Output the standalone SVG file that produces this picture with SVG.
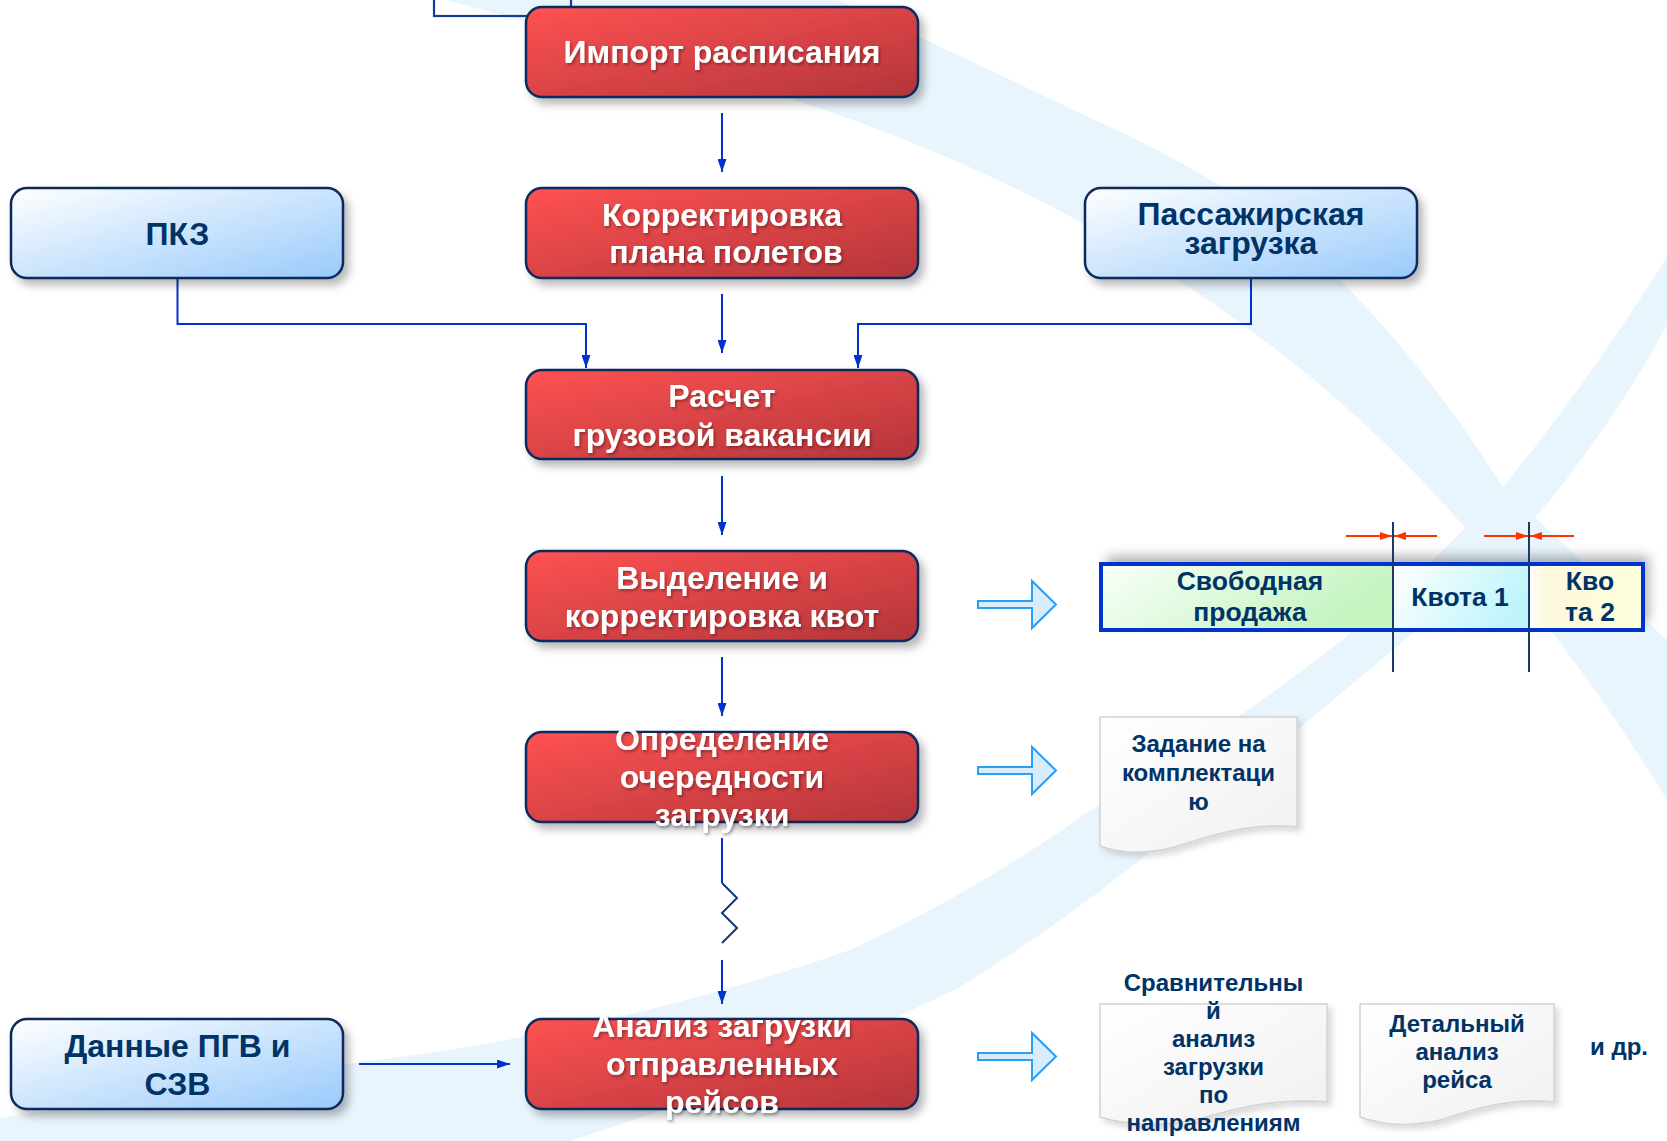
<svg xmlns="http://www.w3.org/2000/svg" width="1667" height="1141" viewBox="0 0 1667 1141">
<defs>
<style>
.t{font-family:"Liberation Sans",Arial,Helvetica,sans-serif;font-weight:bold;text-anchor:middle}
.rt{font-size:32px;fill:#ffffff}
.bt{font-size:32px;fill:#003366}
.dt{font-size:24px;fill:#003366}
.qt{font-size:26.5px;fill:#003366}
.conn{stroke:#0033cc;stroke-width:2;fill:none}
.redbox{fill:url(#gRed);stroke:#0b2b5c;stroke-width:2.5}
.bluebox{fill:url(#gBlue);stroke:#0b2b5c;stroke-width:2.5}
.doc{fill:url(#gDoc);stroke:#d2d2d2;stroke-width:1.5}
.hollow{fill:#d8ecfc;stroke:#2a9df4;stroke-width:2}
.band{fill:#e9f5fd}
.red{stroke:#ff3300;stroke-width:1.8;fill:none}
.div{stroke:#1a3a6a;stroke-width:2}
</style>
<linearGradient id="gRed" x1="0" y1="0" x2="1" y2="1">
<stop offset="0" stop-color="#ff5252"/>
<stop offset="1" stop-color="#b3353a"/>
</linearGradient>
<linearGradient id="gBlue" x1="0" y1="0" x2="1" y2="1">
<stop offset="0" stop-color="#ffffff"/>
<stop offset="1" stop-color="#99cafb"/>
</linearGradient>
<linearGradient id="gDoc" x1="0" y1="0" x2="1" y2="1">
<stop offset="0" stop-color="#ffffff"/>
<stop offset="1" stop-color="#f0f0f0"/>
</linearGradient>
<linearGradient id="gGreen" x1="0" y1="0" x2="1" y2="0.3">
<stop offset="0" stop-color="#f8fff8"/>
<stop offset="1" stop-color="#c4f4c0"/>
</linearGradient>
<linearGradient id="gCyan" x1="0" y1="0" x2="1" y2="0.3">
<stop offset="0" stop-color="#ffffff"/>
<stop offset="1" stop-color="#c0f5fb"/>
</linearGradient>
<linearGradient id="gYellow" x1="0" y1="0" x2="1" y2="0">
<stop offset="0" stop-color="#ffffff"/>
<stop offset="0.14" stop-color="#fcf8dc"/>
<stop offset="1" stop-color="#ffffdc"/>
</linearGradient>
<filter id="shadow" x="-10%" y="-15%" width="125%" height="145%">
<feDropShadow dx="5" dy="6" stdDeviation="4" flood-color="#000" flood-opacity="0.28"/>
</filter>
<filter id="dshadow" x="-10%" y="-10%" width="125%" height="130%">
<feDropShadow dx="4" dy="4" stdDeviation="3" flood-color="#000" flood-opacity="0.15"/>
</filter>
<filter id="qshadow" x="-10%" y="-60%" width="125%" height="200%">
<feDropShadow dx="6" dy="-8" stdDeviation="6" flood-color="#000" flood-opacity="0.3"/>
</filter>
<filter id="tshadow" x="-10%" y="-30%" width="120%" height="160%">
<feDropShadow dx="1.5" dy="2" stdDeviation="1.5" flood-color="#000" flood-opacity="0.35"/>
</filter>
<marker id="arr" viewBox="0 0 13 9" refX="13" refY="4.5" markerWidth="13" markerHeight="9" markerUnits="userSpaceOnUse" orient="auto">
<path d="M0,0 L13,4.5 L0,9 Z" fill="#0033cc"/>
</marker>
<marker id="rarr" viewBox="0 0 12 8" refX="12" refY="4" markerWidth="12" markerHeight="8" markerUnits="userSpaceOnUse" orient="auto">
<path d="M0,0 L12,4 L0,8 Z" fill="#ff3300"/>
</marker>
</defs>

<rect width="1667" height="1141" fill="#ffffff"/>

<g id="background">
<path class="band" d="M445,0 Q620,45 800,102 Q1010,170 1187,286 Q1330,380 1440,500 Q1570,640 1667,800 L1667,640 Q1580,560 1503,487 Q1410,340 1298,240 Q1200,165 1088,117 Q960,55 838,0 Z"/>
<path class="band" d="M1667,257 Q1590,380 1503,487 Q1420,580 1329,650 Q1220,735 1095,807 Q980,890 850,950 Q620,1030 361,1062 Q170,1090 0,1118 L0,1141 L570,1141 Q780,1075 960,987 Q1100,900 1223,790 Q1310,720 1393,650 Q1480,580 1550,500 Q1615,420 1667,325 Z"/>
<rect x="434" y="-20" width="137" height="36" fill="none" stroke="#123c9c" stroke-width="2.2"/>
</g>

<g id="connectors">
<line class="conn" x1="722" y1="113" x2="722" y2="172" marker-end="url(#arr)"/>
<line class="conn" x1="722" y1="294" x2="722" y2="353" marker-end="url(#arr)"/>
<polyline class="conn" points="177.5,278 177.5,324 586,324 586,368" marker-end="url(#arr)"/>
<polyline class="conn" points="1251,278 1251,324 858,324 858,368" marker-end="url(#arr)"/>
<line class="conn" x1="722" y1="476" x2="722" y2="535" marker-end="url(#arr)"/>
<line class="conn" x1="722" y1="657" x2="722" y2="716" marker-end="url(#arr)"/>
<line class="conn" x1="722" y1="838" x2="722" y2="883"/>
<polyline points="722,883 737,898 722,913 737,928 722,943" fill="none" stroke="#0d3a7a" stroke-width="2"/>
<line class="conn" x1="722" y1="960" x2="722" y2="1004" marker-end="url(#arr)"/>
<line class="conn" x1="359" y1="1064" x2="510" y2="1064" marker-end="url(#arr)"/>
<path class="hollow" d="M978,601 L1032,601 L1032,581 L1056,604.5 L1032,628 L1032,608 L978,608 Z"/>
<path class="hollow" d="M978,767 L1032,767 L1032,747 L1056,770.5 L1032,794 L1032,774 L978,774 Z"/>
<path class="hollow" d="M978,1053 L1032,1053 L1032,1033 L1056,1056.5 L1032,1080 L1032,1060 L978,1060 Z"/>
</g>

<g id="node-import">
<rect class="redbox" x="526" y="7" width="392" height="90" rx="16" filter="url(#shadow)"/>
<text class="t rt" x="722" y="63" filter="url(#tshadow)">Импорт расписания</text>
</g>

<g id="node-korrekt">
<rect class="redbox" x="526" y="188" width="392" height="90" rx="16" filter="url(#shadow)"/>
<text class="t rt" filter="url(#tshadow)"><tspan x="722" y="226">Корректировка</tspan><tspan x="726" y="263">плана полетов</tspan></text>
</g>

<g id="node-pkz">
<rect class="bluebox" x="11" y="188" width="332" height="90" rx="16" filter="url(#shadow)"/>
<text class="t bt" x="177.5" y="245">ПКЗ</text>
</g>

<g id="node-pass">
<rect class="bluebox" x="1085" y="188" width="332" height="90" rx="16" filter="url(#shadow)"/>
<text class="t bt"><tspan x="1251" y="225">Пассажирская</tspan><tspan x="1251" y="254">загрузка</tspan></text>
</g>

<g id="node-raschet">
<rect class="redbox" x="526" y="370" width="392" height="89" rx="16" filter="url(#shadow)"/>
<text class="t rt" filter="url(#tshadow)"><tspan x="722" y="407">Расчет</tspan><tspan x="722" y="446">грузовой вакансии</tspan></text>
</g>

<g id="node-kvoty">
<rect class="redbox" x="526" y="551" width="392" height="90" rx="16" filter="url(#shadow)"/>
<text class="t rt" filter="url(#tshadow)"><tspan x="722" y="589">Выделение и</tspan><tspan x="722" y="627">корректировка квот</tspan></text>
</g>

<g id="node-ochered">
<rect class="redbox" x="526" y="732" width="392" height="90" rx="16" filter="url(#shadow)"/>
<text class="t rt" filter="url(#tshadow)"><tspan x="722" y="750">Определение</tspan><tspan x="722" y="788">очередности</tspan><tspan x="722" y="826">загрузки</tspan></text>
</g>

<g id="node-analiz">
<rect class="redbox" x="526" y="1019" width="392" height="90" rx="16" filter="url(#shadow)"/>
<text class="t rt" filter="url(#tshadow)"><tspan x="722" y="1037">Анализ загрузки</tspan><tspan x="722" y="1075">отправленных</tspan><tspan x="722" y="1113">рейсов</tspan></text>
</g>

<g id="node-pgv">
<rect class="bluebox" x="11" y="1019" width="332" height="90" rx="16" filter="url(#shadow)"/>
<text class="t bt"><tspan x="177.5" y="1057">Данные ПГВ и</tspan><tspan x="177.5" y="1095">СЗВ</tspan></text>
</g>

<g id="node-quota">
<rect x="1101" y="564" width="542" height="66" fill="#ffffff" filter="url(#qshadow)"/>
<rect x="1101" y="564" width="292" height="66" fill="url(#gGreen)"/>
<rect x="1393" y="564" width="136" height="66" fill="url(#gCyan)"/>
<rect x="1529" y="564" width="114" height="66" fill="url(#gYellow)"/>
<rect x="1101" y="564" width="542" height="66" fill="none" stroke="#0033cc" stroke-width="4"/>
<line class="div" x1="1393" y1="522" x2="1393" y2="672"/>
<line class="div" x1="1529" y1="522" x2="1529" y2="672"/>
<line class="red" x1="1346" y1="536" x2="1392" y2="536" marker-end="url(#rarr)"/>
<line class="red" x1="1437" y1="536" x2="1394" y2="536" marker-end="url(#rarr)"/>
<line class="red" x1="1484" y1="536" x2="1528" y2="536" marker-end="url(#rarr)"/>
<line class="red" x1="1574" y1="536" x2="1530" y2="536" marker-end="url(#rarr)"/>
<text class="t qt"><tspan x="1250" y="590">Свободная</tspan><tspan x="1250" y="621">продажа</tspan></text>
<text class="t qt" x="1460" y="606">Квота 1</text>
<text class="t qt"><tspan x="1590" y="590">Кво</tspan><tspan x="1590" y="621">та 2</tspan></text>
</g>

<g id="node-zadanie">
<path class="doc" filter="url(#dshadow)" d="M1100,717 H1297 V827 C1245,822 1205,838 1175,847 C1145,855 1118,853 1100,846 Z"/>
<text class="t dt"><tspan x="1198.5" y="752">Задание на</tspan><tspan x="1198.5" y="781">комплектаци</tspan><tspan x="1198.5" y="810">ю</tspan></text>
</g>

<g id="node-sravn">
<path class="doc" filter="url(#dshadow)" d="M1100,1004 H1327 V1102 C1270,1097 1225,1112 1195,1120 C1160,1127 1125,1125 1100,1117 Z"/>
<text class="t dt"><tspan x="1213.5" y="991">Сравнительны</tspan><tspan x="1213.5" y="1019">й</tspan><tspan x="1213.5" y="1047">анализ</tspan><tspan x="1213.5" y="1075">загрузки</tspan><tspan x="1213.5" y="1103">по</tspan><tspan x="1213.5" y="1131">направлениям</tspan></text>
</g>

<g id="node-detal">
<path class="doc" filter="url(#dshadow)" d="M1360,1004 H1554 V1102 C1505,1097 1465,1112 1440,1120 C1410,1127 1382,1125 1360,1117 Z"/>
<text class="t dt"><tspan x="1457" y="1032">Детальный</tspan><tspan x="1457" y="1060">анализ</tspan><tspan x="1457" y="1088">рейса</tspan></text>
</g>

<g id="node-etc">
<text class="t dt" x="1619" y="1055">и др.</text>
</g>
</svg>
